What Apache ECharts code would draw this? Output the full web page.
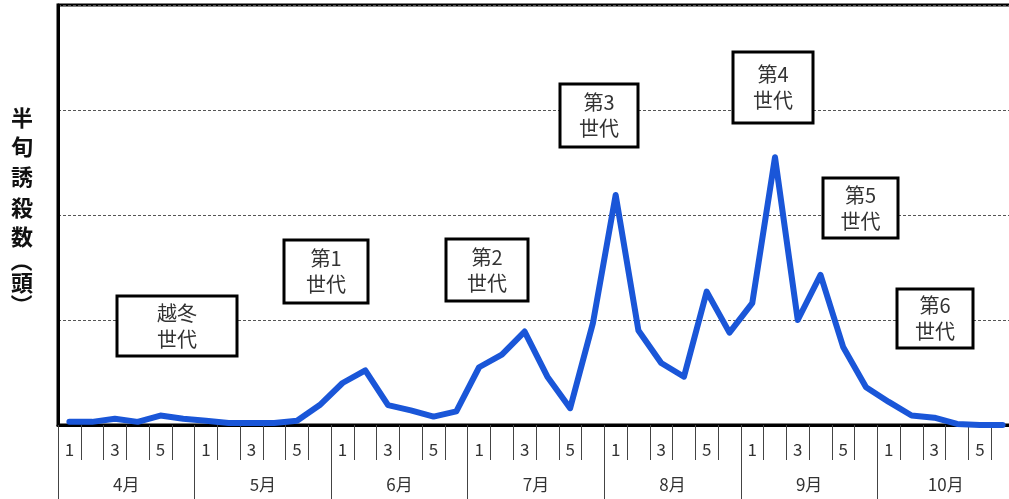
<!DOCTYPE html>
<html>
<head>
<meta charset="utf-8">
<script src="https://cdn.jsdelivr.net/npm/echarts@6/dist/echarts.min.js"></script>
<style>
html,body{margin:0;padding:0;background:#fff;overflow:hidden;}
#main{width:1020px;height:499px;}
</style>
</head>
<body>
<div id="main"></div>
<script>
// 半旬 (half-month periods), April–October
const months = ['4月','5月','6月','7月','8月','9月','10月'];
const halfTickLabels = ['1','','3','','5',''];
const categories = [];
months.forEach(m => { for (let h = 1; h <= 6; h++) categories.push(m + h + '半旬'); });
const tickLabels = [];
months.forEach(() => halfTickLabels.forEach(t => tickLabels.push(t)));

// 半旬誘殺数（頭）
const counts = [3,3,6,3,9,6,4,2,2,2,
                4,19,40,52,19,14,8,13,55,67,
                89,46,16,97,219,90,59,46,127,88,
                116,255,100,143,74,36,22,9,7,1,
                0,0];

const yTicks = [0,100,200,300,400];
const yTitleChars = ['半','旬','誘','殺','数','（','頭','）'];
const generations = ['越冬\n世代','第1\n世代','第2\n世代','第3\n世代','第4\n世代','第5\n世代','第6\n世代'];

const FONT = '"Noto Sans CJK JP", "Noto Sans", sans-serif';

// layout of annotation boxes (pixels)
const boxLayout = [
  [117,296,120,60],
  [284,240,84,63],
  [446,239,82,62],
  [560,84,78,63],
  [733,52,80,71],
  [823,178,75,60],
  [897,289,76,59]
];
const titleY = [118,147,177,208,237,261,283,305];

const chart = echarts.init(document.getElementById('main'), null, {renderer:'canvas'});

const graphics = [];
yTitleChars.forEach((c,i) => {
  const isParen = (c === '（' || c === '）');
  graphics.push({
    type:'text', x: 22, y: titleY[i], rotation: isParen ? -Math.PI/2 : 0,
    style:{text:c, fill:'#111', font:'bold 22px ' + FONT, textAlign:'center', textVerticalAlign:'middle'}
  });
});
generations.forEach((g,i) => {
  const b = boxLayout[i];
  graphics.push({
    type:'rect', z: 10,
    shape:{x:b[0], y:b[1], width:b[2], height:b[3]},
    style:{fill:'#fff', stroke:'#000', lineWidth:3}
  });
  const lines = g.split('\n');
  lines.forEach((ln, k) => {
    graphics.push({
      type:'text', z: 11,
      x: b[0] + b[2]/2,
      y: b[1] + b[3]/2 + (k - (lines.length-1)/2) * 26,
      style:{text:ln, fill:'#333', font:'20px ' + FONT, textAlign:'center', textVerticalAlign:'middle'}
    });
  });
});

chart.setOption({
  animation:false,
  backgroundColor:'#fff',
  grid:{left:58, top:5, width:956, height:420, show:true, borderColor:'#000', borderWidth:3, backgroundColor:'transparent'},
  xAxis:[
    {
      type:'category', data:categories, position:'bottom', boundaryGap:true,
      axisLine:{show:true, lineStyle:{color:'#000', width:3}},
      axisTick:{show:true, interval:0, length:35, lineStyle:{color:'#444', width:1}},
      axisLabel:{interval:0, margin:16, fontSize:17, color:'#333', fontFamily:FONT,
                 formatter:(v, idx) => tickLabels[idx]},
      splitLine:{show:false}
    },
    {
      type:'category', data:months, position:'bottom', boundaryGap:true,
      axisLine:{show:false},
      axisTick:{show:true, interval:0, length:74, lineStyle:{color:'#444', width:1}},
      axisLabel:{interval:0, margin:51, fontSize:17, color:'#333', fontFamily:FONT},
      splitLine:{show:false}
    }
  ],
  yAxis:{
    type:'value', min:yTicks[0], max:yTicks[yTicks.length-1], interval:100,
    axisLine:{show:true, lineStyle:{color:'#000', width:3}},
    axisTick:{show:false},
    axisLabel:{show:false},
    splitLine:{show:true, lineStyle:{color:'#555', width:1, type:[3,2]}}
  },
  series:[{
    type:'line', xAxisIndex:0, data:counts, symbol:'none', smooth:false,
    lineStyle:{color:'#1a56d8', width:6, join:'round', cap:'round'},
    z:5
  }],
  graphic:graphics
});
</script>
</body>
</html>
